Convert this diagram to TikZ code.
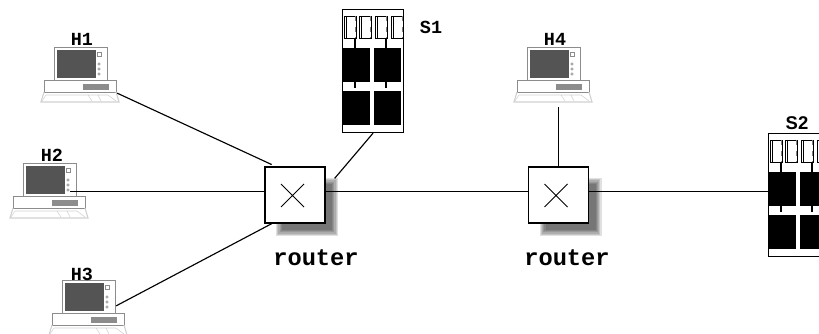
\documentclass[tikz,border=0pt]{standalone}
\usepackage{fontspec}
\setmonofont{Liberation Mono}
\setsansfont{Liberation Sans}
\definecolor{screengray}{gray}{0.33}
\definecolor{framegray}{gray}{0.55}
\definecolor{keysgray}{gray}{0.82}
\begin{document}
\begin{tikzpicture}[x=0.2mm,y=-0.2mm,line width=0.65pt,
    main label/.style={font=\ttfamily\bfseries\fontsize{10.5}{12}\selectfont},
    router label/.style={font=\ttfamily\bfseries\fontsize{13.5}{16}\selectfont},
    flat box/.style={draw,inner sep=0pt,anchor=north west},
    host/.pic={
        \node[flat box,draw=framegray,fill=white,minimum width=10.6mm,minimum height=6.6mm] (-mon) at (0,0) {};
        \fill[screengray] (3,3) rectangle (42,31);
        \draw[framegray,line width=0.3pt] (43,5) rectangle (47,9);
        \foreach \k in {17,22,27} \draw[framegray,line width=0.3pt] (45,\k) circle (1.3);
        \node[flat box,draw=framegray,fill=white,minimum width=14.4mm,minimum height=2.4mm] (-base) at (-10,33) {};
        \fill[framegray] (29,37) rectangle (55,43);
        \draw[keysgray] (-10,45) -- (-13,55) -- (65,55) -- (62,45);
        \draw[keysgray,line width=0.3pt] (-8,48) -- (-12,54) (-8,48) -- (54,48) -- (62,54) (34,48) -- (38,54) (44,48) -- (47,54);
    },
    server/.pic={
        \node[flat box,fill=white,minimum width=12.2mm,minimum height=24.6mm] (-box) at (0,0) {};
        \foreach \sx in {2,17,33,49} {
            \draw[line width=0.45pt] (\sx,7) rectangle ++(12,22);
            \draw[line width=0.3pt] (\sx+2.5,7) -- ++(0,22);
            \draw[gray,dashed,line width=0.4pt] (\sx+11,7) -- ++(0,22);
        }
        \foreach \sx in {1,32} \foreach \sy in {39,82} {
            \fill (\sx,\sy) rectangle ++(27,34);
        }
        \foreach \sx in {13,44} \draw (\sx,29) -- (\sx,39) (\sx,73) -- (\sx,79);
    },
    router/.pic={
        \foreach \s in {0,...,5}
            \fill[black,opacity=0.12] (-19+\s*1.2,-17+\s*1.2) rectangle (43-\s*1.2,41-\s*1.2);
        \node[draw,fill=white,inner sep=0pt,minimum width=12mm,minimum height=11.2mm] (-box) at (0,0) {};
        \draw[line width=0.5pt] (-14,-11) -- (9,12) (9,-11) -- (-14,12);
    }]
    \clip (0,0) rectangle (819,334);

    \pic (h1) at (54,47) {host};
    \pic (h2) at (23,163) {host};
    \pic (h3) at (62,280) {host};
    \pic (h4) at (527,47) {host};
    \pic (s1) at (342,9) {server};
    \pic (s2) at (768,133) {server};
    \pic (r1) at (295,195) {router};
    \pic (r2) at (558.5,195) {router};
    \coordinate (h2port) at (70,191);

    \node[main label] (h1label) at (82,39) {H1};
    \node[main label] (h2label) at (52,155) {H2};
    \node[main label] (h3label) at (82,274) {H3};
    \node[main label] (h4label) at (555,39) {H4};
    \node[main label] (s1label) at (431,27) {S1};
    \node[font=\sffamily\bfseries\fontsize{10.5}{12}\selectfont] (s2label) at (797,123) {S2};
    \node[router label] (r1label) at (316,258) {router};
    \node[router label] (r2label) at (567,258) {router};

    \draw[shorten >=0.9mm] (h1-base.south east) -- (r1-box.124);
    \draw (r1-box.173) -- (r1-box.173 -| h2port);
    \draw (h3-mon.-18) -- (r1-box.231);
    \draw[shorten >=2.8mm] (s1-box.south) -- (r1-box.11);
    \draw (r1-box.7) -- (r2-box.173);
    \draw[shorten >=2.8mm] (r2-box.north) -- (r2-box.north |- h4-base.south);
    \draw (r2-box.7) -- (r2-box.7 -| s2-box.west);
\end{tikzpicture}
\end{document}
